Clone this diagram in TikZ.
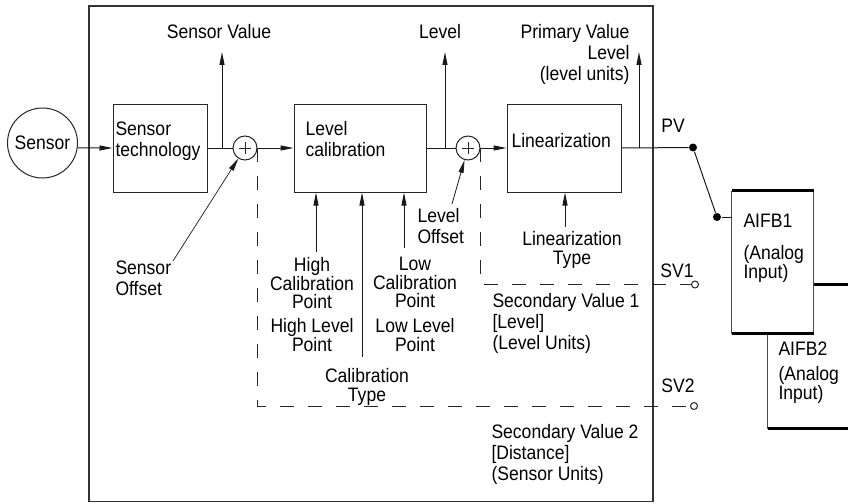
\documentclass[tikz,border=0pt]{standalone}
\usepackage{fontspec}
\setmainfont[FakeStretch=0.9]{Liberation Sans}
\usetikzlibrary{arrows.meta}
\begin{document}
\begin{tikzpicture}[x=1pt,y=-1pt,
  font=\fontsize{19.5}{21}\selectfont,
  line width=1pt,
  >={Triangle[length=13pt,width=5pt]},
  box/.style={draw=black!85, rectangle, inner sep=0pt},
  lbl/.style={inner sep=0pt},
  tight/.style={font=\fontsize{19.5}{18.5}\selectfont},
  sumnode/.style={circle, draw=black!85, fill=white, minimum size=24pt, inner sep=0pt,
    path picture={\draw[line width=0.7pt] ([xshift=-6pt]path picture bounding box.center) -- ([xshift=6pt]path picture bounding box.center)
      ([yshift=-6pt]path picture bounding box.center) -- ([yshift=6pt]path picture bounding box.center);}},
  dotnode/.style={circle, fill=black, minimum size=8pt, inner sep=0pt},
  port/.style={circle, draw=black!85, fill=white, minimum size=7pt, inner sep=0pt},
  dashline/.style={draw=black!85, dash pattern=on 14pt off 14pt},
  conn/.style={draw=black!90},
]
\useasboundingbox (0,0) rectangle (848,503);

% outer frame
\draw[black!80, line width=1.1pt] (89,6) rectangle (653,501.5);

% blocks
\node[circle, draw=black!85, minimum size=70pt, inner sep=0pt] (sensor) at (42.5,143) {Sensor};
\node[box, minimum width=94pt, minimum height=88pt] (st) at (160,148) {};
\node[box, minimum width=132pt, minimum height=88pt] (lc) at (360,148) {};
\node[box, minimum width=114pt, minimum height=88pt] (lin) at (564,148) {};
\node[sumnode] (sum1) at (245,148) {};
\node[sumnode] (sum2) at (468,148) {};

% block texts
\node[lbl, anchor=north west, align=left] (sttxt) at (115,121) {Sensor\\technology};
\node[lbl, anchor=north west, align=left] (lctxt) at (305,121) {Level\\calibration};
\node[lbl, anchor=base west] (lintxt) at (511,147) {Linearization};

% output labels
\node[lbl, anchor=base] (svlab) at (219,38) {Sensor Value};
\node[lbl, anchor=base] (lvlab) at (440,38) {Level};
\node[lbl, anchor=north east, align=right] (pvlab) at (630,24) {Primary Value\\Level\\(level units)};
\node[lbl, anchor=base] (pvtxt) at (673,132) {PV};

% main signal path
\draw[conn,->] (sensor.-8) -- (st.west);
\draw[conn] (st.east) -- (sum1.west);
\draw[conn,->] (sum1.east) -- (lc.west);
\draw[conn] (lc.east) -- (sum2.west);
\draw[conn,->] (sum2.east) -- (lin.west);

% upward outputs
\coordinate (svb) at (222,148); \coordinate (svt) at (222,52);
\coordinate (lvb) at (445,148); \coordinate (lvt) at (445,52);
\coordinate (pvb) at (639,148); \coordinate (pvt) at (639,52);
\draw[conn,->] (svb) -- (svt);
\draw[conn,->] (lvb) -- (lvt);
\draw[conn,->] (pvb) -- (pvt);

% PV switch
\node[dotnode] (pvdot) at (693,147.5) {};
\node[dotnode] (swdot) at (717,217) {};
\draw[conn] (lin.east) -- (pvdot);
\draw[conn] (pvdot) -- (swdot);

% offsets
\coordinate (so) at (173,261);
\node[lbl, anchor=north west, align=left] (sotxt) at (115,260) {Sensor\\Offset};
\draw[conn,line width=0.7pt,->] (so) -- (sum1);
\coordinate (lo) at (452,204);
\node[lbl, anchor=north west, align=left] (lotxt) at (417,208) {Level\\Offset};
\draw[conn,line width=0.8pt,->] (lo) -- (sum2);

% calibration inputs
\coordinate (hcp) at (316,252);
\coordinate (ctp) at (362,357);
\coordinate (lcp) at (404,248);
\draw[conn,->] (hcp) -- (hcp |- lc.south);
\draw[conn,->] (ctp) -- (ctp |- lc.south);
\draw[conn,->] (lcp) -- (lcp |- lc.south);
\node[lbl, tight, anchor=north, align=center] (hctxt) at (312,257) {High\\Calibration\\Point};
\node[lbl, tight, anchor=north, align=center] (hltxt) at (312,318) {High Level\\Point};
\node[lbl, tight, anchor=north, align=center] (lctxt2) at (415,257) {Low\\Calibration\\Point};
\node[lbl, tight, anchor=north, align=center] (lltxt) at (415,318) {Low Level\\Point};
\node[lbl, tight, anchor=north, align=center] (cttxt) at (367,368) {Calibration\\Type};

% linearization type
\coordinate (ltp) at (565,227);
\draw[conn,->] (ltp) -- (ltp |- lin.south);
\node[lbl, tight, anchor=north, align=center] (lttxt) at (572,231) {Linearization\\Type};

% secondary values
\node[port] (sv1c) at (695,284.5) {};
\node[port] (sv2c) at (694,406) {};
\draw[dashline] (sum2.east) -- (sum2.east |- sv1c) -- (sv1c.west);
\draw[dashline] (sum1.east) -- (sum1.east |- sv2c) -- (sv2c.west);
\node[lbl, anchor=base] (sv1txt) at (677,277) {SV1};
\node[lbl, anchor=base] (sv2txt) at (678,392) {SV2};
\node[lbl, anchor=north west, align=left] (s1txt) at (492,293) {Secondary Value 1\\{[Level]}\\(Level Units)};
\node[lbl, anchor=north west, align=left] (s2txt) at (491,424) {Secondary Value 2\\{[Distance]}\\(Sensor Units)};

% function blocks
\node[minimum width=80pt, minimum height=143pt, inner sep=0pt] (aifb2) at (808,356.5) {};
\draw[black, line width=3pt] (aifb2.north west) -- (aifb2.north east);
\draw[black, line width=3pt] (aifb2.south west) -- (aifb2.south east);
\draw[black!70, line width=1pt] (aifb2.north west) -- (aifb2.south west);
\node[fill=white, minimum width=81pt, minimum height=142pt, inner sep=0pt] (aifb1) at (772.5,262) {};
\draw[black!70, line width=1pt] (aifb1.north west) -- (aifb1.south west) (aifb1.north east) -- (aifb1.south east);
\draw[black, line width=3pt] (aifb1.north west) -- (aifb1.north east);
\draw[black, line width=3pt] (aifb1.south west) -- (aifb1.south east);
\draw[conn] (swdot) -- (swdot -| aifb1.west);
\node[lbl, anchor=base west] (a1t) at (743,227) {AIFB1};
\node[lbl, anchor=north west, align=left, font=\fontsize{19.5}{19}\selectfont] (a1s) at (743,245) {(Analog\\Input)};
\node[lbl, anchor=base west] (a2t) at (778,355) {AIFB2};
\node[lbl, anchor=north west, align=left, font=\fontsize{19.5}{18.5}\selectfont] (a2s) at (778,366) {(Analog\\Input)};
\end{tikzpicture}
\end{document}
